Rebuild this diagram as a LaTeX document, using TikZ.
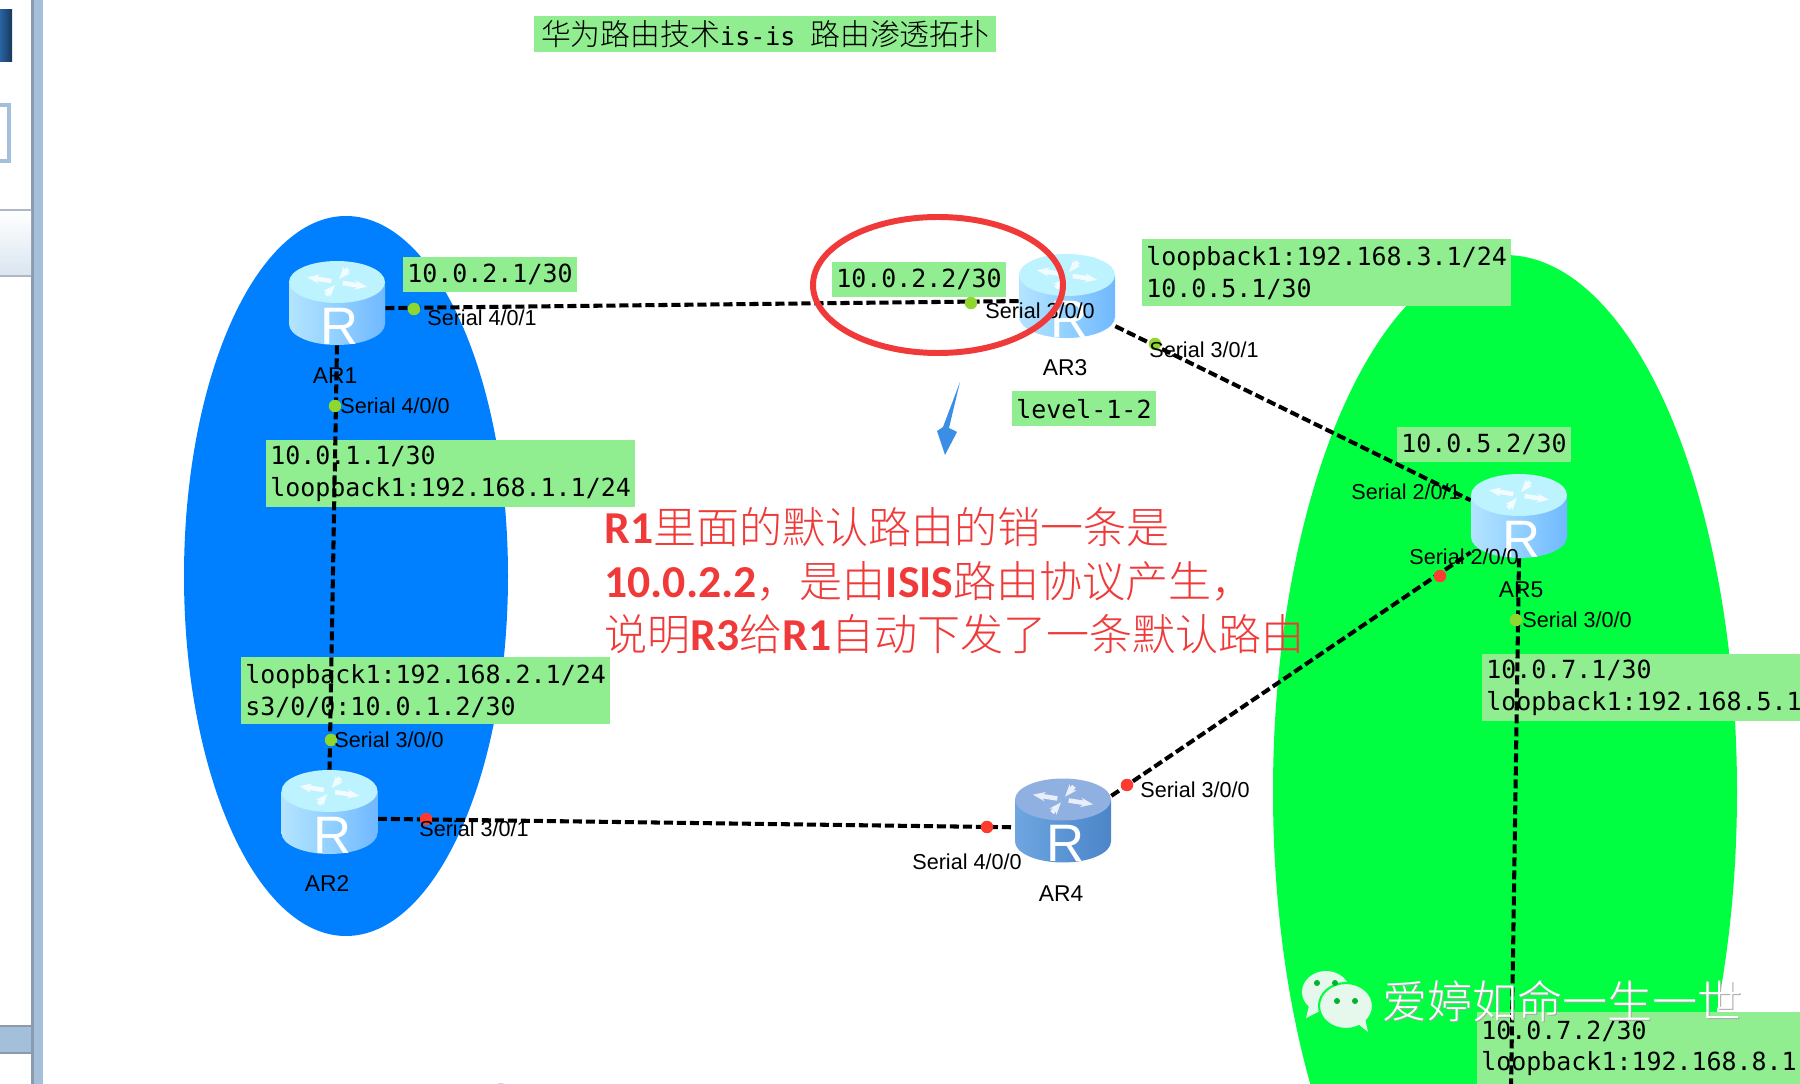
\documentclass[tikz,border=0pt]{standalone}
\usepackage{fontspec}
\setmainfont{Liberation Sans}
\newfontfamily\cjk{Noto Sans CJK SC}
\newfontfamily\cjkthin{Noto Sans CJK SC}[UprightFont=* Light]
\newfontfamily\ipfont{DejaVu Sans Mono}
\newfontfamily\notefont{Carlito}[UprightFont=* Bold]
\usetikzlibrary{arrows.meta, positioning}

\definecolor{areablue}{HTML}{0080FF}
\definecolor{areagreen}{HTML}{00FF40}
\definecolor{boxgreen}{HTML}{90EE90}
\definecolor{noteRed}{HTML}{F03A3A}
\definecolor{dotgreen}{HTML}{8FD62F}
\definecolor{dotred}{HTML}{FF3B30}
\definecolor{stripblue}{HTML}{A3BFD9}
\definecolor{stripgray}{HTML}{8C9AAB}
\definecolor{arrowblue}{HTML}{3A8EE6}
\definecolor{paleL}{HTML}{B4E4FF}
\definecolor{paleM}{HTML}{92D0FF}
\definecolor{paleR}{HTML}{70B8FF}
\definecolor{paleT}{HTML}{BDF2FF}
\definecolor{darkL}{HTML}{6FA6E0}
\definecolor{darkM}{HTML}{5B95D6}
\definecolor{darkR}{HTML}{4C86C8}
\definecolor{darkT}{HTML}{8FB0E0}
\definecolor{iconwhite}{HTML}{E6F8EC}

\tikzset{
  routernode/.style={minimum width=1.92cm, minimum height=1.68cm, inner sep=0pt},
  ipbox/.style={fill=boxgreen, anchor=north west, align=left, inner sep=0.08cm,
    font=\ipfont\fontsize{14.2}{18.2}\selectfont},
  oneline/.style={minimum height=0.7cm},
  twoline/.style={minimum height=1.34cm},
  seriallabel/.style={inner sep=0pt, font=\fontsize{12.3}{14}\selectfont},
  arlabel/.style={inner sep=0pt, font=\fontsize{13}{15}\selectfont},
  portdot/.style={circle, inner sep=0pt, minimum size=0.25cm},
  serialline/.style={line width=2.3pt, dash pattern=on 5.2pt off 2.2pt},
  markstyle/.style={anchor=west, inner sep=0pt, font=\cjkthin\fontsize{25.6}{28}\selectfont},
  pics/router/.style n args={4}{code={
    \path[left color=#1, right color=#3, middle color=#2]
      (-48,-21) -- (-48,21) arc[start angle=180, end angle=0, x radius=48, y radius=21] -- (48,-21) -- cycle;
    \fill[#4] (0,-21) ellipse [x radius=48, y radius=21];
    \foreach \a in {20,200} {
      \draw[white!80!#4, line width=2.6pt, -{Stealth[length=7pt]}] (\a:6 and 3) ++(0,-21) -- ++(\a:26 and 11);
    }
    \foreach \a in {110,290} {
      \draw[white!80!#4, line width=2.6pt, {Stealth[length=7pt]}-] (\a:6 and 3) ++(0,-21) -- ++(\a:26 and 11);
    }
    \node[text=white, inner sep=0pt, font=\fontsize{30}{32}\selectfont] (letter) at (3,23) {R};
  }}
}

\begin{document}
\begin{tikzpicture}[x=0.02cm, y=-0.02cm]
\useasboundingbox (0,0) rectangle (1800,1084);
\clip (0,0) rectangle (1800,1084);
% Routers, only the anchors
\node[routernode] (ar1) at (337,303) {};
\node[routernode] (ar2) at (329.5,812) {};
\node[routernode] (ar3) at (1067,296) {};
\node[routernode] (ar4) at (1063,820.5) {};
\node[routernode] (ar5) at (1519,516) {};
\coordinate (down) at (1511,1090);
% Window edge
\fill[stripblue] (31,0) rectangle (43,1084);
\fill[stripgray] (31,0) rectangle (34,1084);
\fill[stripblue] (0,1026) rectangle (31,1053);
\draw[stripgray, line width=1pt] (0,1026) -- (31,1026) (0,1053) -- (31,1053);
\fill[left color=arrowblue!70!black, right color=arrowblue!40!black] (0,10) rectangle (12,62);
\draw[stripblue, line width=2pt, fill=white] (-4,105) rectangle (9,161);
\fill[top color=white, bottom color=stripblue!40] (0,210) rectangle (31,276);
\draw[stripgray!70, line width=1pt] (0,210) -- (31,210) (0,276) -- (31,276);
% Areas
\fill[areablue] (346,576) ellipse [x radius=162, y radius=360];
\fill[areagreen] (1505,792) ellipse [x radius=232, y radius=537];
\fill[stripblue!60] (501,1087) ellipse [x radius=6, y radius=4];
% Address boxes
\node[ipbox, oneline, minimum width=9.24cm] (title) at (534,16)
  {{\cjkthin\fontsize{17}{20}\selectfont 华为路由技术}is-is {\cjkthin\fontsize{17}{20}\selectfont 路由渗透拓扑}};
\node[ipbox, oneline] (ip1) at (403,257) {10.0.2.1/30};
\node[ipbox, oneline] (ip2) at (832,262) {10.0.2.2/30};
\node[ipbox, twoline] (ip3) at (1142,239) {loopback1:192.168.3.1/24\\10.0.5.1/30};
\node[ipbox, oneline] (level) at (1012,391) {level-1-2};
\node[ipbox, oneline] (ip4) at (1397,427) {10.0.5.2/30};
\node[ipbox, twoline] (ip5) at (266,440) {10.0.1.1/30\\loopback1:192.168.1.1/24};
\node[ipbox, twoline] (ip6) at (241,657) {loopback1:192.168.2.1/24\\s3/0/0:10.0.1.2/30};
\node[ipbox, twoline, text width=6.5cm] (ip7) at (1482,654) {10.0.7.1/30\\loopback1:192.168.5.1};
\node[ipbox, minimum height=1.44cm, text width=6.5cm] (ip8) at (1477,1012) {10.0.7.2/30\\loopback1:192.168.8.1};
% Serial links
\draw[serialline] (ar1.-6) -- (ar3.186);
\draw[serialline] (ar1.south) -- (ar2.north);
\draw[serialline] (ar2.-8) -- (ar4.188);
\draw[serialline] (ar4.27) -- (ar5.217);
\draw[serialline] (ar3.-32) -- (ar5.162);
\draw[serialline] (ar5.south) -- (down);
% Router 1 to 5
\pic at (ar1) {router={paleL}{paleM}{paleR}{paleT}};
\pic at (ar2) {router={paleL}{paleM}{paleR}{paleT}};
\pic at (ar3) {router={paleL}{paleM}{paleR}{paleT}};
\pic at (ar4) {router={darkL}{darkM}{darkR}{darkT}};
\pic at (ar5) {router={paleL}{paleM}{paleR}{paleT}};
% Ports
\foreach \n/\x/\y in {p1/414/309, p2/335/406, p3/331/740, p4/971/303, p5/1155/344, p6/1516/620} {
  \node[portdot, fill=dotgreen] (\n) at (\x,\y) {};
}
\foreach \n/\x/\y in {p7/426/819, p8/987/827, p9/1127/785, p10/1440/576} {
  \node[portdot, fill=dotred] (\n) at (\x,\y) {};
}
\node[seriallabel] (s1) at (482,318) {Serial 4/0/1};
\node[seriallabel] (s2) at (395,406) {Serial 4/0/0};
\node[seriallabel] (s3) at (389,740) {Serial 3/0/0};
\node[seriallabel] (s4) at (474,829) {Serial 3/0/1};
\node[seriallabel] (s5) at (967,862) {Serial 4/0/0};
\node[seriallabel] (s6) at (1195,790) {Serial 3/0/0};
\node[seriallabel] (s7) at (1040,311) {Serial 3/0/0};
\node[seriallabel] (s8) at (1204,350) {Serial 3/0/1};
\node[seriallabel] (s9) at (1406,492) {Serial 2/0/1};
\node[seriallabel] (s10) at (1464,557) {Serial 2/0/0};
\node[seriallabel] (s11) at (1577,620) {Serial 3/0/0};
\node[arlabel] (n1) at (335,376) {AR1};
\node[arlabel] (n2) at (327,884) {AR2};
\node[arlabel] (n3) at (1065,368) {AR3};
\node[arlabel] (n4) at (1061,894) {AR4};
\node[arlabel] (n5) at (1521,590) {AR5};
% Red mark and note
\draw[noteRed, line width=3.4pt] (938,285) ellipse [x radius=125, y radius=68];
\fill[arrowblue] (960,382) -- (949,428) -- (957,432) -- (945,455) -- (937,431) -- (943,427) -- cycle;
\node[anchor=west, align=left, inner sep=0pt, text=noteRed, font=\notefont\fontsize{26}{30.4}\selectfont] (note) at (604,581)
  {R1{\cjkthin\fontsize{24.5}{30.4}\selectfont 里面的默认路由的销一条是}\\
   10.0.2.2{\cjkthin\fontsize{24.5}{30.4}\selectfont ，是由}ISIS{\cjkthin\fontsize{24.5}{30.4}\selectfont 路由协议产生，}\\
   {\cjkthin\fontsize{24.5}{30.4}\selectfont 说明}R3{\cjkthin\fontsize{24.5}{30.4}\selectfont 给}R1{\cjkthin\fontsize{24.5}{30.4}\selectfont 自动下发了一条默认路由}};
% Watermark
\fill[iconwhite] (1326,992) ellipse [x radius=24, y radius=21];
\fill[iconwhite] (1309,1006) -- (1306,1018) -- (1322,1010) -- cycle;
\draw[areagreen, line width=1.2pt, fill=iconwhite] (1346,1006) ellipse [x radius=27, y radius=23];
\fill[iconwhite] (1358,1024) -- (1368,1032) -- (1365,1018) -- cycle;
\foreach \x/\y in {1317/983, 1335/983, 1337/1001, 1355/1001} {
  \fill[areagreen!70!black] (\x,\y) circle (3);
}
\node[markstyle, text=gray!70] (markshadow) at (1383.5,1002.5) {爱婷如命一生一世};
\node[markstyle, text=white] (mark) at (1382,1001) {爱婷如命一生一世};
\end{tikzpicture}
\end{document}
